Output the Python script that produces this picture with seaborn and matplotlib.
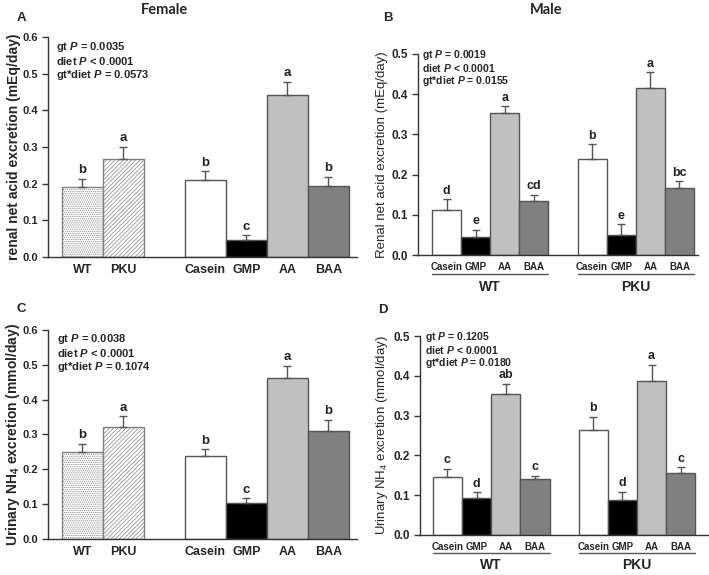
import numpy as np
import pandas as pd
import matplotlib.pyplot as plt
import matplotlib.transforms as mtransforms
import seaborn as sns

# female panels (A, C): genotype and diet main effects
fem_labels = ["WT", "PKU", "Casein", "GMP", "AA", "BAA"]
fem_pos = [0, 1, 3, 4, 5, 6]
naae_fem = [0.191, 0.267, 0.211, 0.047, 0.442, 0.195]
naae_fem_err = [0.023, 0.033, 0.023, 0.012, 0.036, 0.024]
naae_fem_sig = ["b", "a", "b", "c", "a", "b"]
nh4_fem = [0.251, 0.322, 0.237, 0.103, 0.461, 0.310]
nh4_fem_err = [0.023, 0.031, 0.020, 0.014, 0.036, 0.033]
nh4_fem_sig = ["b", "a", "b", "c", "a", "b"]

# male panels (B, D): genotype x diet
diets = ["Casein", "GMP", "AA", "BAA"]
genotypes = ["WT", "PKU"]
male_labels = diets + diets
male_pos = [0, 1, 2, 3, 5, 6, 7, 8]
naae_male = [0.111, 0.046, 0.354, 0.135, 0.238, 0.049, 0.415, 0.167]
naae_male_err = [0.028, 0.017, 0.016, 0.015, 0.038, 0.028, 0.039, 0.017]
naae_male_sig = ["d", "e", "a", "cd", "b", "e", "a", "bc"]
nh4_male = [0.145, 0.092, 0.355, 0.140, 0.264, 0.088, 0.387, 0.155]
nh4_male_err = [0.022, 0.015, 0.025, 0.009, 0.033, 0.021, 0.041, 0.016]
nh4_male_sig = ["c", "d", "ab", "c", "b", "d", "a", "c"]

stats_a = ["0.0035", "< 0.0001", "0.0573"]
stats_b = ["0.0019", "< 0.0001", "0.0155"]
stats_c = ["0.0038", "< 0.0001", "0.1074"]
stats_d = ["0.1205", "< 0.0001", "0.0180"]

fill = {"WT": "white", "PKU": "white", "Casein": "white", "GMP": "black",
        "AA": "#c0c0c0", "BAA": "#808080"}
hatch = {"WT": "........", "PKU": "////////"}

sns.set_style("ticks")
plt.rcParams["font.family"] = ["Liberation Sans", "DejaVu Sans"]
plt.rcParams["mathtext.default"] = "regular"
plt.rcParams["mathtext.fontset"] = "custom"
plt.rcParams["mathtext.it"] = "Liberation Sans:italic:bold"
plt.rcParams["hatch.linewidth"] = 0.5

EDGE = "#555555"


def stats_text(vals):
    p = r"$\mathit{P}$"
    return (f"gt {p} = {vals[0]}\n"
            f"diet {p} {vals[1]}\n"
            f"gt*diet {p} = {vals[2]}")


def panel(ax, pos, labels, vals, errs, sig, ymax, ylabel, xlim, stats,
          stats_xy, xtick_fs, ytick_fs, ylab_fs, ylab_weight, sig_fs,
          stats_fs, stats_ls):
    df = pd.DataFrame({"pos": pos, "val": vals})
    sns.barplot(data=df, x="pos", y="val", native_scale=True, width=1,
                color="white", edgecolor=EDGE, linewidth=1, errorbar=None,
                ax=ax)
    bars = sorted(ax.patches, key=lambda p: p.get_x())
    for b, lab in zip(bars, labels):
        b.set_facecolor(fill[lab])
        if lab in hatch:
            b.set_hatch(hatch[lab])
            b.set_edgecolor("#808080")
    ax.errorbar(pos, vals, yerr=[np.zeros(len(vals)), errs], fmt="none",
                ecolor=EDGE, elinewidth=1, capsize=3, capthick=1)
    for p, v, e, s in zip(pos, vals, errs, sig):
        ax.text(p, v + e + ymax * 0.012, s, ha="center", va="bottom",
                fontsize=sig_fs, fontweight="bold", color="#222222")
    ax.set_xlim(*xlim)
    ax.set_ylim(0, ymax)
    ticks = np.arange(0, ymax + 0.001, 0.1)
    ax.set_yticks(ticks)
    ax.set_yticklabels([f"{t:.1f}" for t in ticks], fontsize=ytick_fs,
                       fontweight="bold")
    ax.set_xticks(pos)
    ax.set_xticklabels(labels, fontsize=xtick_fs, fontweight="bold")
    ax.tick_params(axis="x", length=0, pad=5)
    ax.tick_params(axis="y", length=4, width=1, color="#333333", pad=3)
    ax.set_xlabel("")
    ax.set_ylabel(ylabel, fontsize=ylab_fs, fontweight=ylab_weight)
    for sp in ["top", "right"]:
        ax.spines[sp].set_visible(False)
    for sp in ["left", "bottom"]:
        ax.spines[sp].set_color("#333333")
        ax.spines[sp].set_linewidth(1)
    ax.text(stats_xy[0], stats_xy[1], stats, transform=ax.transAxes,
            ha="left", va="top", fontsize=stats_fs, fontweight="bold",
            linespacing=stats_ls)


def group_labels(ax, yline, ytext):
    tr = ax.get_xaxis_transform()
    for i, g in enumerate(genotypes):
        grp = male_pos[i * 4:(i + 1) * 4]
        ax.plot([grp[0] - 0.5, grp[-1] + 0.5], [yline, yline], color="#555555",
                lw=1, transform=tr, clip_on=False)
        ax.text(np.mean(grp), ytext, g, transform=tr, ha="center",
                va="center", fontsize=10, fontweight="bold")


fig = plt.figure(figsize=(7.09, 5.75), dpi=100)

ax_a = fig.add_axes([0.0677, 0.553, 0.436, 0.3826])
panel(ax_a, fem_pos, fem_labels, naae_fem, naae_fem_err, naae_fem_sig, 0.6,
      "renal net acid excretion (mEq/day)", (-0.84, 6.70),
      stats_text(stats_a), (0.025, 0.985), 9, 8, 10, "bold", 9.5, 8, 1.1)

ax_b = fig.add_axes([0.5896, 0.5565, 0.395, 0.3496])
panel(ax_b, male_pos, male_labels, naae_male, naae_male_err, naae_male_sig,
      0.5, "Renal net acid excretion (mEq/day)", (-0.98, 8.64),
      stats_text(stats_b), (0.013, 1.03), 7, 8.5, 9.5, "normal", 9, 7.5, 1.0)
group_labels(ax_b, -0.095, -0.16)

ax_c = fig.add_axes([0.0677, 0.0626, 0.436, 0.3635])
panel(ax_c, fem_pos, fem_labels, nh4_fem, nh4_fem_err, nh4_fem_sig, 0.6,
      "Urinary NH$_4$ excretion (mmol/day)", (-0.84, 6.70),
      stats_text(stats_c), (0.03, 0.99), 9, 8, 10, "bold", 9.5, 8, 1.1)

ax_d = fig.add_axes([0.5924, 0.0696, 0.406, 0.346])
panel(ax_d, male_pos, male_labels, nh4_male, nh4_male_err, nh4_male_sig,
      0.5, "Urinary NH$_4$ excretion (mmol/day)", (-0.94, 8.93),
      stats_text(stats_d), (0.017, 1.03), 7, 8.5, 9.5, "normal", 9, 7.5, 1.0)
group_labels(ax_d, -0.09, -0.15)

for ax, x in [(ax_a, 14), (ax_c, 13), (ax_b, 382), (ax_d, 382)]:
    tr = mtransforms.blended_transform_factory(fig.transFigure, ax.transAxes)
    ax.yaxis.set_label_coords(x / 709, 0.5, transform=tr)
    ax.yaxis.label.set_verticalalignment("center")

fig.text(165 / 709, 1 - 10 / 575, "Female", ha="center", va="center",
         fontsize=10.5, fontweight="bold", family="Lato")
fig.text(546 / 709, 1 - 10 / 575, "Male", ha="center", va="center",
         fontsize=10.5, fontweight="bold", family="Lato")
for lab, x, y in [("A", 21, 18), ("B", 388, 18), ("C", 21, 309), ("D", 383, 310)]:
    fig.text(x / 709, 1 - y / 575, lab, ha="center", va="center",
             fontsize=9.5, fontweight="bold")

fig.savefig("out.png", dpi=100)
